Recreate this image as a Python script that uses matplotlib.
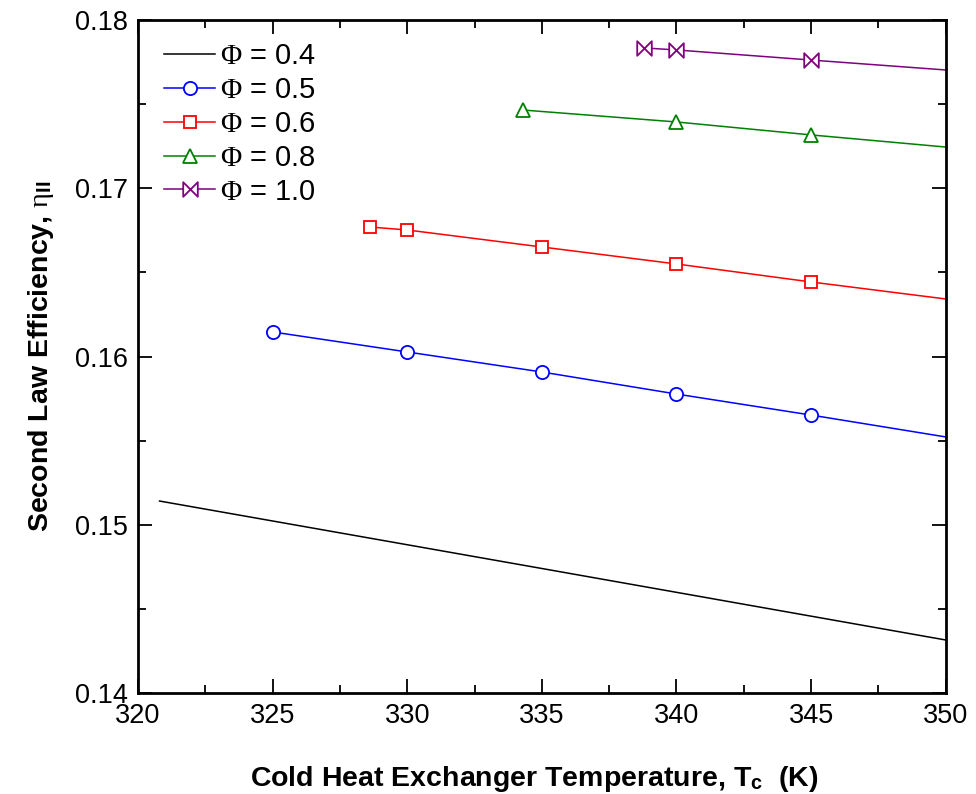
import matplotlib
matplotlib.use("Agg")
import matplotlib.pyplot as plt
from matplotlib.path import Path
from matplotlib.ticker import MultipleLocator, FormatStrFormatter

plt.rcParams['font.family'] = ['Liberation Sans', 'DejaVu Sans']
plt.rcParams['mathtext.fontset'] = 'custom'
plt.rcParams['mathtext.rm'] = 'Liberation Serif'
plt.rcParams['mathtext.it'] = 'Liberation Serif:italic'
plt.rcParams['mathtext.bf'] = 'Liberation Sans:bold'
plt.rcParams['mathtext.sf'] = 'Liberation Sans'

# Second law efficiency vs. cold heat exchanger temperature for several Phi
t_04 = [320.8, 335.0, 350.0]
eta_04 = [0.15141, 0.14740, 0.14315]

t_05 = [325.0, 330.0, 335.0, 340.0, 345.0, 350.0]
eta_05 = [0.16146, 0.16027, 0.15908, 0.15777, 0.15652, 0.15522]

t_06 = [328.6, 330.0, 335.0, 340.0, 345.0, 350.0]
eta_06 = [0.16770, 0.16752, 0.16651, 0.16550, 0.16443, 0.16342]

t_08 = [334.3, 340.0, 345.0, 350.0]
eta_08 = [0.17465, 0.17394, 0.17317, 0.17245]

t_10 = [338.8, 340.0, 345.0, 350.0]
eta_10 = [0.17834, 0.17822, 0.17762, 0.17703]

phi_values = ['0.4', '0.5', '0.6', '0.8', '1.0']
labels = [r'$\mathrm{\Phi}$ = ' + p for p in phi_values]

# bow-tie marker |><|
bowtie = Path([(-1, -1), (-1, 1), (1, -1), (1, 1), (-1, -1)],
              [Path.MOVETO, Path.LINETO, Path.LINETO, Path.LINETO, Path.CLOSEPOLY])

fig = plt.figure(figsize=(9.76, 7.94), dpi=100)
ax = fig.add_axes([0.1414, 0.1272, 0.8276, 0.8476])

lw = 1.1
ms = 9.5
ax.plot(t_04, eta_04, color='black', lw=lw, label=labels[0])
series = [
    (t_05, eta_05, '#0000FF', 'o', ms),
    (t_06, eta_06, '#FF0000', 's', 9.0),
    (t_08, eta_08, '#008000', '^', ms),
    (t_10, eta_10, '#800080', bowtie, 10.5),
]
for (t, e, c, m, s), lab in zip(series, labels[1:]):
    ax.plot(t, e, color=c, lw=lw, marker=m, markersize=s,
            markerfacecolor='white', markeredgecolor=c, markeredgewidth=1.3,
            markevery=list(range(len(t) - 1)), label=lab)

ax.set_xlim(320, 350)
ax.set_ylim(0.14, 0.18)
ax.xaxis.set_major_locator(MultipleLocator(5))
ax.xaxis.set_minor_locator(MultipleLocator(2.5))
ax.yaxis.set_major_locator(MultipleLocator(0.01))
ax.yaxis.set_minor_locator(MultipleLocator(0.005))
ax.yaxis.set_major_formatter(FormatStrFormatter('%.2f'))

ax.tick_params(which='both', direction='in', top=True, right=True,
               labelsize=19.5, width=1.3)
ax.tick_params(which='major', length=10, pad=7)
ax.tick_params(which='minor', length=6)
for sp in ax.spines.values():
    sp.set_linewidth(2.0)

ax.set_xlabel(r'Cold Heat Exchanger Temperature, T$_{\mathbf{c}}$  (K)',
              fontsize=20.5, fontweight='bold', labelpad=22)
ax.xaxis.set_label_coords(0.49, -0.105)
ax.set_ylabel(r'Second Law Efficiency, $\mathrm{\eta}_{\mathbf{II}}$',
              fontsize=20.5, fontweight='bold', labelpad=14)

leg = ax.legend(loc='upper left', frameon=False, fontsize=21,
                handlelength=1.75, handletextpad=0.15, labelspacing=0.2,
                borderaxespad=0.2, bbox_to_anchor=(0.011, 0.993))

fig.savefig('out.png', dpi=100)
